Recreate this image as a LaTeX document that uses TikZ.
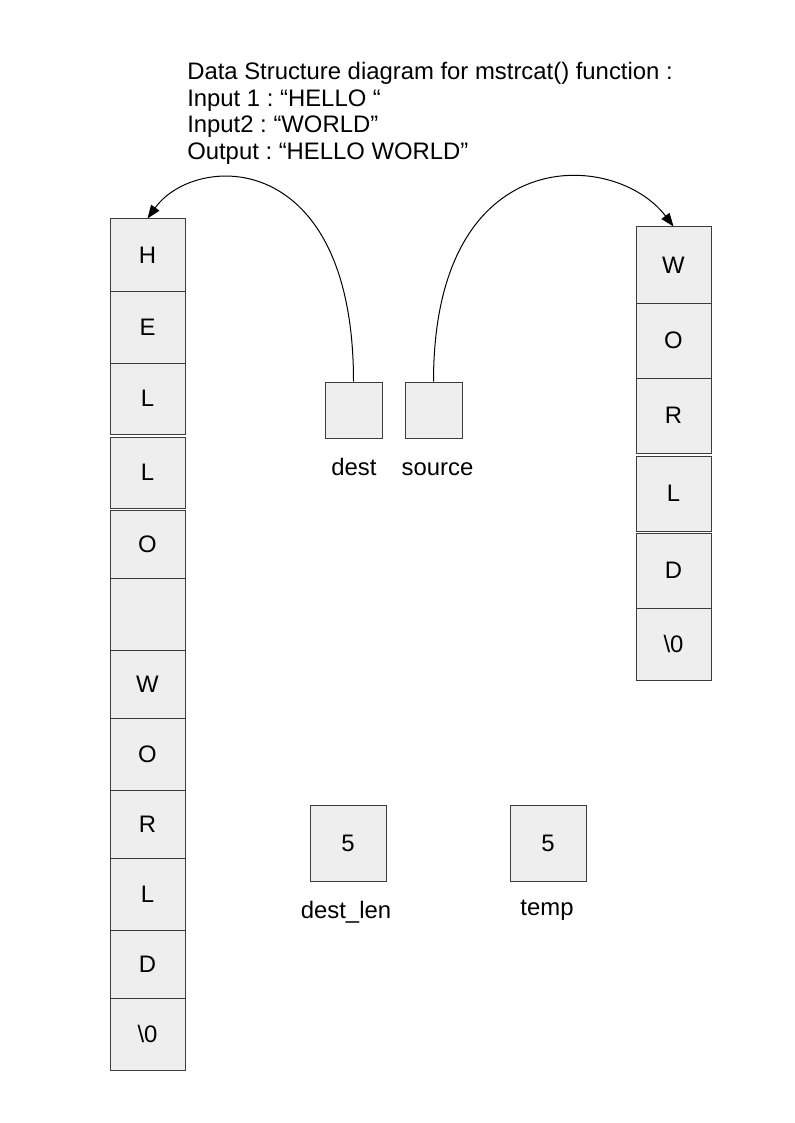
\documentclass[tikz,border=0pt]{standalone}
\usepackage{fontspec}
\setmainfont{Liberation Sans}
\usetikzlibrary{arrows.meta}
\definecolor{cellfill}{RGB}{238,238,238}
\definecolor{cellline}{RGB}{60,60,60}
\frenchspacing
\begin{document}
\begin{tikzpicture}[x=0.75pt,y=-0.75pt,
  every node/.style={font=\fontsize{17.9pt}{20pt}\selectfont},
  cellbox/.style={draw=cellline, line width=0.75pt, fill=cellfill, inner sep=0pt,
    minimum width={75*0.75pt}},
  ptrbox/.style={draw=cellline, line width=0.75pt, fill=cellfill, inner sep=0pt,
    minimum width={57*0.75pt}, minimum height={56*0.75pt}},
  valbox/.style={draw=cellline, line width=0.75pt, fill=cellfill, inner sep=0pt,
    minimum width={76*0.75pt}, minimum height={76*0.75pt}},
  titletext/.style={anchor=base west, inner sep=0pt},
  labeltext/.style={anchor=base, inner sep=0pt},
  ptr/.style={draw=black, line width=0.75pt, -{Triangle[length=10pt,width=7.5pt]}}
]
\useasboundingbox (0,0) rectangle (794,1123);
\fill[white] (0,0) rectangle (794,1123);

% title
\node[titletext] (t1) at (187,80) {Data Structure diagram for mstrcat() function :};
\node[titletext] (t2) at (187,107) {Input 1 : “HELLO “};
\node[titletext] (t3) at (187,133) {Input2 : “WORLD”};
\node[titletext] (t4) at (187,160) {Output : “HELLO WORLD”};

% left column (dest string)
\node[cellbox, minimum height={72*0.75pt}] (H)  at (147.5,255)   {H};
\node[cellbox, minimum height={72*0.75pt}] (E)  at (147.5,327)   {E};
\node[cellbox, minimum height={71*0.75pt}] (L1) at (147.5,398.5) {L};
\node[cellbox, minimum height={71*0.75pt}] (L2) at (147.5,472.5) {L};
\node[cellbox, minimum height={68*0.75pt}] (O1) at (147.5,544)   {O};
\node[cellbox, minimum height={72*0.75pt}] (SP) at (147.5,614)   {};
\node[cellbox, minimum height={68*0.75pt}] (W1) at (147.5,684)   {W};
\node[cellbox, minimum height={72*0.75pt}] (O2) at (147.5,754)   {O};
\node[cellbox, minimum height={68*0.75pt}] (R1) at (147.5,824)   {R};
\node[cellbox, minimum height={72*0.75pt}] (L3) at (147.5,894)   {L};
\node[cellbox, minimum height={68*0.75pt}] (D1) at (147.5,964)   {D};
\node[cellbox, minimum height={72*0.75pt}] (N1) at (147.5,1034)  {\textbackslash 0};

% right column (source string)
\node[cellbox, minimum height={76*0.75pt}] (W2) at (673.5,265)   {W};
\node[cellbox, minimum height={75*0.75pt}] (O3) at (673.5,340.5) {O};
\node[cellbox, minimum height={75*0.75pt}] (R2) at (673.5,415.5) {R};
\node[cellbox, minimum height={75*0.75pt}] (L4) at (673.5,493.5) {L};
\node[cellbox, minimum height={75*0.75pt}] (D2) at (673.5,570.5) {D};
\node[cellbox, minimum height={72*0.75pt}] (N2) at (673.5,644)   {\textbackslash 0};

% pointers
\node[ptrbox] (dest)   at (353.5,410) {};
\node[ptrbox] (source) at (433.5,410) {};
\node[labeltext] (destlbl)   at (354,475)   {dest};
\node[labeltext] (sourcelbl) at (437.5,475) {source};

% integer variables
\node[valbox] (destlen) at (348,843) {5};
\node[valbox] (temp)    at (548,843) {5};
\node[labeltext] (destlenlbl) at (346,918) {dest\_len};
\node[labeltext] (templbl)    at (547,915) {temp};

% connectors
\draw[ptr] (dest.north) .. controls +(0,-235) and +(47.5,-66) .. (H.north);
\draw[ptr] (source.north) .. controls +(0,-242) and +(-58.5,-77) .. (W2.north);
\end{tikzpicture}
\end{document}
